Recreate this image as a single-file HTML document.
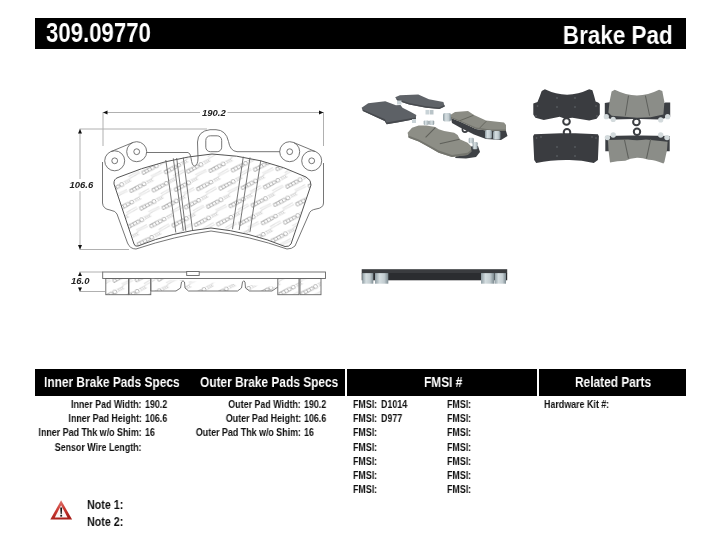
<!DOCTYPE html>
<html><head><meta charset="utf-8"><style>
html,body{margin:0;padding:0;background:#fff;}
body{width:720px;height:557px;overflow:hidden;position:relative;font-family:"Liberation Sans",sans-serif;font-weight:bold;color:#111;}
.bar{position:absolute;background:#000;}
.t{position:absolute;white-space:nowrap;transform-origin:0 0;will-change:transform;}
.r{position:absolute;white-space:nowrap;transform-origin:100% 0;text-align:right;will-change:transform;}
.w{color:#fff;}
.h1{font-size:27px;line-height:27px;}
.hd{font-size:14px;line-height:14px;}
.s{font-size:10.4px;line-height:10.4px;transform:scaleX(0.855);}
svg{position:absolute;left:0;top:0;will-change:transform;}
</style></head><body>
<!-- header -->
<div class="bar" style="left:35px;top:18px;width:651px;height:31px"></div>
<div class="t w h1" style="left:45.8px;top:19.3px;font-size:28px;line-height:28px;transform:scaleX(0.792)">309.09770</div>
<div class="r w h1" style="right:47.1px;top:21.5px;font-size:26.5px;line-height:26.5px;transform:scaleX(0.847)">Brake Pad</div>

<!-- drawing -->
<svg width="720" height="557" viewBox="0 0 720 557">
<defs>
<g id="logo" fill="none" stroke="#a6a6a6" stroke-width="0.75">
<rect x="0" y="-1.6" width="13" height="3.2" rx="0.6"/>
<path d="M3.25,-1.6 v3.2 M6.5,-1.6 v3.2 M9.75,-1.6 v3.2"/>
<circle cx="15.8" cy="0" r="1.9"/>
<path d="M18.6,-1.2 h7.5 M18.6,1.2 h7.5 M20.4,-1.2 v2.4 M22.4,-1.2 v2.4 M24.4,-1.2 v2.4" stroke="#d0d0d0"/>
<path d="M6,6.5 h12 M6,8.5 h12" stroke="#dedede" stroke-width="0.9"/>
</g>
<pattern id="st" patternUnits="userSpaceOnUse" x="0" y="0" width="22.3" height="17.6" patternTransform="translate(197,189.6) matrix(1,-0.0269,0.5682,1,0,0)">
<use href="#logo" transform="translate(-44.60,-17.60) matrix(0.98495,0.0265,-0.55946,0.98495,0,0) rotate(-28)"/>
<use href="#logo" transform="translate(-44.60,0.00) matrix(0.98495,0.0265,-0.55946,0.98495,0,0) rotate(-28)"/>
<use href="#logo" transform="translate(-44.60,17.60) matrix(0.98495,0.0265,-0.55946,0.98495,0,0) rotate(-28)"/>
<use href="#logo" transform="translate(-44.60,35.20) matrix(0.98495,0.0265,-0.55946,0.98495,0,0) rotate(-28)"/>
<use href="#logo" transform="translate(-22.30,-17.60) matrix(0.98495,0.0265,-0.55946,0.98495,0,0) rotate(-28)"/>
<use href="#logo" transform="translate(-22.30,0.00) matrix(0.98495,0.0265,-0.55946,0.98495,0,0) rotate(-28)"/>
<use href="#logo" transform="translate(-22.30,17.60) matrix(0.98495,0.0265,-0.55946,0.98495,0,0) rotate(-28)"/>
<use href="#logo" transform="translate(-22.30,35.20) matrix(0.98495,0.0265,-0.55946,0.98495,0,0) rotate(-28)"/>
<use href="#logo" transform="translate(0.00,-17.60) matrix(0.98495,0.0265,-0.55946,0.98495,0,0) rotate(-28)"/>
<use href="#logo" transform="translate(0.00,0.00) matrix(0.98495,0.0265,-0.55946,0.98495,0,0) rotate(-28)"/>
<use href="#logo" transform="translate(0.00,17.60) matrix(0.98495,0.0265,-0.55946,0.98495,0,0) rotate(-28)"/>
<use href="#logo" transform="translate(0.00,35.20) matrix(0.98495,0.0265,-0.55946,0.98495,0,0) rotate(-28)"/>
<use href="#logo" transform="translate(22.30,-17.60) matrix(0.98495,0.0265,-0.55946,0.98495,0,0) rotate(-28)"/>
<use href="#logo" transform="translate(22.30,0.00) matrix(0.98495,0.0265,-0.55946,0.98495,0,0) rotate(-28)"/>
<use href="#logo" transform="translate(22.30,17.60) matrix(0.98495,0.0265,-0.55946,0.98495,0,0) rotate(-28)"/>
<use href="#logo" transform="translate(22.30,35.20) matrix(0.98495,0.0265,-0.55946,0.98495,0,0) rotate(-28)"/>
</pattern>
</defs>
<!-- dimension lines -->
<g stroke="#b0b0b0" stroke-width="1" fill="none">
<line x1="103" y1="112.5" x2="200" y2="112.5"/>
<line x1="227.5" y1="112.5" x2="323" y2="112.5"/>
<line x1="103" y1="112" x2="103" y2="146"/>
<line x1="323.5" y1="112" x2="323.5" y2="146"/>
<line x1="79.5" y1="129" x2="207" y2="129"/>
<line x1="80" y1="129" x2="80" y2="179"/>
<line x1="80" y1="191" x2="80" y2="249"/>
<line x1="79.5" y1="249.5" x2="129" y2="249.5"/>
<line x1="79.5" y1="272" x2="103" y2="272"/>
<line x1="79.5" y1="291.5" x2="105" y2="291.5"/>
<line x1="80" y1="272" x2="80" y2="275"/>
<line x1="80" y1="287" x2="80" y2="291"/>
</g>
<g fill="#111">
<path d="M103,112.5 L107.5,110.5 L107.5,114.5Z"/>
<path d="M323.5,112.5 L319,110.5 L319,114.5Z"/>
<path d="M80,129 L78,133.5 L82,133.5Z"/>
<path d="M80,249.5 L78,245 L82,245Z"/>
<path d="M80,272 L78,276 L82,276Z"/>
<path d="M80,291.5 L78,287.5 L82,287.5Z"/>
</g>
<g font-family="Liberation Sans" font-weight="bold" font-style="italic" font-size="9.5" fill="#222">
<text x="202" y="116">190.2</text>
<text x="69.5" y="188">106.6</text>
<text x="71" y="284">16.0</text>
</g>
<!-- front view pad -->
<g fill="none" stroke="#666" stroke-width="0.9">
<!-- backing plate outline -->
<path d="M102.5,162 L102.5,203 Q103,209 110,210 Q116,211 117,214 L127.5,243 Q130,249 136,249 Q175,236 211,231 Q250,236 287,249 Q292,249 295,246 L309,214 Q310,210 316,209 Q323.5,208 323.5,203 L323.5,163
 M146.5,152.5 L188,152.5 Q190.5,153 191,158 Q192,166 194.5,166 Q198,165 198,158 L197.5,142 Q198,131 210,129.7 L216,129.7 Q226,130 228.5,141.5 Q230,151 237,151.7 L280,151.7"/>
<path d="M110.9,151.6 L132.9,142.5"/>
<path d="M293.5,142.5 L315.5,151.6"/>
<circle cx="114.7" cy="160.8" r="10"/>
<circle cx="136.7" cy="151.7" r="10"/>
<circle cx="289.7" cy="151.7" r="10"/>
<circle cx="311.7" cy="160.8" r="10"/>
<circle cx="114.7" cy="160.8" r="2.9"/>
<circle cx="136.7" cy="151.7" r="2.9"/>
<circle cx="289.7" cy="151.7" r="2.9"/>
<circle cx="311.7" cy="160.8" r="2.9"/>
<rect x="205.8" y="135.8" width="15.9" height="15.9" rx="4.5"/>
</g>
<!-- friction material -->
<path d="M114,184 Q113.5,179 118,177.5 Q165,158 212,154 Q262,156 306,177 Q311.5,180 311,185 L291,244 Q289,247 285,246.5 Q250,232 211,228 Q172,232 138,246 Q135,247 134,244 Z" fill="url(#st)" stroke="#555" stroke-width="1"/>
<g stroke="#666" stroke-width="0.9">
<line x1="165.8" y1="160" x2="175.8" y2="232.5"/>
<line x1="173.3" y1="158.3" x2="183.3" y2="230.8"/>
<line x1="176.7" y1="158" x2="185.8" y2="230.8"/>
<line x1="183.3" y1="157.5" x2="192.5" y2="230"/>
<line x1="243.3" y1="156.7" x2="232.5" y2="229.2"/>
<line x1="250" y1="157.5" x2="239.2" y2="230"/>
<line x1="260.8" y1="160" x2="250" y2="231.7"/>
</g>
<!-- side view -->
<g fill="url(#st)" stroke="#666" stroke-width="0.9">
<rect x="102.7" y="272" width="222.8" height="6.5" fill="#fff"/>
<rect x="186.7" y="271.5" width="12.5" height="4" fill="#fff"/>
<rect x="105.8" y="278.5" width="22.7" height="16.2"/>
<rect x="129" y="278.5" width="21.8" height="16.2"/>
<path d="M150.8,278.5 L150.8,291 L176,291 L180.5,288 L181.5,282 Q183,279.5 184.5,282 L185,288 L188.5,291 L237.5,291 L241.5,288 L242.5,282 Q243.7,279.5 245,282 L245.5,288 L249.5,291 L272,291 L277.8,287"/>
<rect x="277.8" y="278.5" width="21.2" height="16.2"/>
<rect x="300" y="278.5" width="21" height="16.2"/>
</g>
<!-- photos -->
<defs>
<linearGradient id="clip" x1="0" x2="1" y1="0" y2="0">
<stop offset="0" stop-color="#8e9ca2"/><stop offset="0.35" stop-color="#d4dde0"/><stop offset="0.7" stop-color="#c2ccd0"/><stop offset="1" stop-color="#7d8b91"/>
</linearGradient>
</defs>
<g>
<!-- pad 1 back-left -->
<path d="M361.6,107.8 L368.2,103.2 L385.3,101.2 L395.9,105.2 L400.5,104.9 L402.5,107.8 L410.4,111.7 L416.3,115 L415.7,119 L398.5,122.3 L386.7,124.3 L384.7,121 L362.9,111.1Z" fill="#5d6166"/>
<path d="M362.9,111.1 L384.7,121 L386.7,124.3 L398.5,122.3 L415.7,119 L415.9,117.5 L398,120.6 L386.5,122.5 L385,119.3 L362.5,109.5Z" fill="#46494d"/>
<rect x="412" y="119" width="4" height="4" fill="#c9d3d7"/>
<!-- pad 2 back-top -->
<path d="M395.2,97.2 L399.9,95.3 L418.3,94.6 L428.9,99.2 L443.4,101.9 L444.7,106.5 L439.4,109.1 L426.2,107.8 L409.1,104.5 L397.2,100.5Z" fill="#5f6368"/>
<path d="M397.2,100.5 L409.1,104.5 L426.2,107.8 L439.4,109.1 L444.7,106.5 L444.5,105 L439,107.5 L426,106.2 L409,103 L396.5,99Z" fill="#484b4f"/>
<rect x="397" y="100.5" width="4.5" height="4" fill="#c9d3d7"/>
<rect x="425.5" y="110" width="4" height="4.5" fill="#c9d3d7"/>
<rect x="430" y="110" width="3.5" height="4.5" fill="#b9c4c8"/>
<!-- pad 4 right -->
<path d="M451,118 L461,122 L476,129 L490,131 L506,131 L507.5,136 L501,140 L486,139 L474,134.5 L460,127.5 L452,123Z" fill="#3c3f43"/>
<circle cx="465" cy="129.5" r="2.6" fill="none" stroke="#3c3f43" stroke-width="1.6"/>
<path d="M451,114.5 L455,112 L468,111 L474,115 L486,120.5 L504,122.5 L506,125 L506,131 L490,131 L476,129 L461,122 L451,118Z" fill="#8b8c84"/>
<path d="M451,117 L461,121 L476,127.5 L490,129.6 L506,129.6 L506,131 L490,131 L476,129 L461,122 L451,118Z" fill="#74756e"/>
<path d="M473.5,115.3 L459.5,120.8 M486.5,121 L479.5,128.2" stroke="#66675f" stroke-width="1"/>
<rect x="443" y="113" width="8" height="8.5" rx="1.8" fill="url(#clip)"/>
<rect x="485" y="130" width="7" height="8.5" rx="1.5" fill="url(#clip)"/>
<rect x="493" y="131" width="7.5" height="8.5" rx="1.5" fill="url(#clip)"/>
<!-- pad 3 front-center -->
<path d="M462,147 L478,146 L480,152 L476,157 L466,158.5 L455,158Z" fill="#3e4145"/>
<path d="M407.6,132.7 L412,127.7 L418.7,125.4 L426.4,125.4 L435.3,127.1 L438.7,129.3 L444.2,131 L454.2,132.7 L457.6,134.9 L459.8,139.3 L467.6,142.7 L470.9,146 L471.4,151.6 L467.6,154.9 L452,157.1 L438.7,152.7 L428.7,147.1 L418.7,141.6 L408.7,137.7Z" fill="#8d8e86"/>
<path d="M408.2,135.5 L418.7,139.6 L428.7,145 L438.7,150.6 L452,155 L467.6,152.8 L471.2,149.8 L471.4,151.6 L467.6,154.9 L452,157.1 L438.7,152.7 L428.7,147.1 L418.7,141.6 L408.7,137.7Z" fill="#74756e"/>
<path d="M435.3,127.6 L425.6,137.3 M459.6,139.2 L439.8,143.8" stroke="#5f605a" stroke-width="1.1"/>
<rect x="423.7" y="120.4" width="5" height="4.6" rx="1.2" fill="url(#clip)"/>
<rect x="429.2" y="120.4" width="5" height="4.6" rx="1.2" fill="url(#clip)"/>
<rect x="468.7" y="137.7" width="5" height="5.5" rx="1.2" fill="url(#clip)"/>
<rect x="472.6" y="142" width="5" height="7.3" rx="1.2" fill="url(#clip)"/>
</g>
<g>
<!-- right group: top-left dark -->
<path d="M541.7,90.9 L544.9,89.3 Q567,100 589.2,89.3 L592.4,90.3 L594,95.6 L595.6,101.4 L598.2,102.5 L599.8,104.1 L599.8,114.6 L596.6,118.8 L589.2,120.4 L572.4,117.8 L570,118 L563,118 L559.7,116.7 L543.8,119.9 L535.4,117.8 L533.3,114.6 L533.3,103.5 L537.5,102 L539.6,96.7Z" fill="#3a3c40"/>
<circle cx="566.5" cy="121.5" r="3.3" fill="none" stroke="#3a3c40" stroke-width="2"/>
<g fill="#55585c"><circle cx="557" cy="98" r="1"/><circle cx="575" cy="98" r="1"/><circle cx="557" cy="107" r="1"/><circle cx="575" cy="107" r="1"/><circle cx="537.5" cy="106" r="0.9"/><circle cx="596" cy="106" r="0.9"/><circle cx="536" cy="116" r="0.9"/><circle cx="597" cy="116" r="0.9"/></g>
<!-- top-right gray -->
<path d="M604.8,103 L611,102 L611,103 L664,103 L665.5,102.5 L670.2,102.5 L670.2,116.7 L660,119.5 L640,119 L633,119 L612,119.5 L604.8,116.7Z" fill="#3c3f43"/>
<circle cx="636.4" cy="122" r="3.3" fill="none" stroke="#3c3f43" stroke-width="2"/>
<path d="M611.6,91.4 L614.8,89.8 Q637,101 659.1,89.8 L662.3,90.9 L664.4,102 L663.4,114.6 L650.7,117.3 L637,117.8 L611.6,115.7 L608.4,112.5 L609.5,102Z" fill="#8b8d88"/>
<path d="M628.5,95.6 L625.3,115.7 M645.4,95.6 L649.6,115.7" stroke="#5e605c" stroke-width="1"/>
<g fill="#d3dadc"><circle cx="606.3" cy="116.7" r="2.6"/><circle cx="613.2" cy="119.4" r="2.6"/><circle cx="660.7" cy="119.9" r="2.6"/><circle cx="667.6" cy="116.7" r="2.6"/></g>
<!-- bottom-left dark -->
<circle cx="567" cy="132.2" r="3.3" fill="none" stroke="#3a3c40" stroke-width="2"/>
<path d="M534.2,134.3 L560.9,133.2 L575.3,133.2 L597.9,134.3 L598.9,136.3 L597.9,160 L593.8,163 Q580,159.5 566,160 Q550,160 536.2,163 L534.2,160 L533.1,136.3Z" fill="#3a3c40"/>
<g fill="#55585c"><circle cx="536.5" cy="138" r="0.9"/><circle cx="541" cy="137" r="0.9"/><circle cx="592" cy="137" r="0.9"/><circle cx="596" cy="138" r="0.9"/><circle cx="557" cy="147" r="1"/><circle cx="575" cy="147" r="1"/><circle cx="557" cy="156" r="1"/><circle cx="575" cy="156" r="1"/></g>
<!-- bottom-right gray -->
<circle cx="637" cy="131.8" r="3.2" fill="none" stroke="#3c3f43" stroke-width="2"/>
<path d="M605.3,136 L632,135.5 L642,135.5 L669.7,136 L669.7,151.3 L605.3,151.3Z" fill="#3c3f43"/>
<path d="M608,140 L628,139.5 Q637,141 646,139.5 L667.6,141.8 L667,150 L664.4,162 L663.4,163.5 Q655,160 648.6,159.8 Q642,157.5 637,157.7 Q630,158 625.3,160.8 Q617,161 610,162.4 L608.5,150Z" fill="#8b8d88"/>
<path d="M624.3,139 L628.5,158.5 M650.7,139 L646.5,158.5" stroke="#5e605c" stroke-width="1.1"/>
<g fill="#d3dadc"><circle cx="613.2" cy="135" r="2.7"/><circle cx="607.4" cy="137.6" r="2.7"/><circle cx="660.7" cy="135" r="2.7"/><circle cx="667" cy="137.6" r="2.7"/></g>
</g>
</g>
<g>
<!-- side photo -->
<rect x="361.7" y="269.2" width="145.5" height="4" fill="#3a3c3f"/>
<rect x="361.7" y="273" width="145.5" height="7.3" fill="#2b2d30"/>
<rect x="362.2" y="273.1" width="11.1" height="10.6" fill="url(#clip)"/>
<rect x="375" y="273.1" width="13.3" height="10.6" fill="url(#clip)"/>
<rect x="481" y="273.1" width="13" height="10.6" fill="url(#clip)"/>
<rect x="494.5" y="273.1" width="11.5" height="10.6" fill="url(#clip)"/>
</g>
<!-- warning -->
<defs><linearGradient id="wr" x1="0" y1="0" x2="0.3" y2="1"><stop offset="0" stop-color="#e48a86"/><stop offset="0.55" stop-color="#cc3b33"/><stop offset="1" stop-color="#a81f1a"/></linearGradient></defs>
<path d="M61.1,500.3 L50.3,519.6 L72.1,519.6Z" fill="url(#wr)"/>
<path d="M61.1,505.2 L54.8,517.4 L67.5,517.4Z" fill="#fbf4f4"/>
<path d="M60.2,507.5 L62.2,507.5 L61.7,514.2 L60.7,514.2Z" fill="#151515"/>
<rect x="60.3" y="515" width="1.8" height="1.6" fill="#151515"/>
</svg>

<!-- table header -->
<div class="bar" style="left:35px;top:369px;width:310px;height:27px"></div>
<div class="bar" style="left:347px;top:369px;width:190px;height:27px"></div>
<div class="bar" style="left:539px;top:369px;width:147px;height:27px"></div>
<div class="t w hd" style="left:44px;top:375px;transform:scaleX(0.85)">Inner Brake Pads Specs</div>
<div class="t w hd" style="left:200px;top:375px;transform:scaleX(0.85)">Outer Brake Pads Specs</div>
<div class="t w hd" style="left:424px;top:375px;transform:scaleX(0.85)">FMSI #</div>
<div class="t w hd" style="left:575px;top:375px;transform:scaleX(0.85)">Related Parts</div>

<!-- inner specs -->
<div class="r s" style="right:578.4px;top:399.6px">Inner Pad Width:</div>
<div class="r s" style="right:578.4px;top:413.9px">Inner Pad Height:</div>
<div class="r s" style="right:578.4px;top:428.2px">Inner Pad Thk w/o Shim:</div>
<div class="r s" style="right:578.4px;top:442.5px">Sensor Wire Length:</div>
<div class="t s" style="left:145px;top:399.6px">190.2</div>
<div class="t s" style="left:145px;top:413.9px">106.6</div>
<div class="t s" style="left:145px;top:428.2px">16</div>

<!-- outer specs -->
<div class="r s" style="right:419px;top:399.6px">Outer Pad Width:</div>
<div class="r s" style="right:419px;top:413.9px">Outer Pad Height:</div>
<div class="r s" style="right:419px;top:428.2px">Outer Pad Thk w/o Shim:</div>
<div class="t s" style="left:304.4px;top:399.6px">190.2</div>
<div class="t s" style="left:304.4px;top:413.9px">106.6</div>
<div class="t s" style="left:304.4px;top:428.2px">16</div>

<!-- FMSI -->
<div class="t s" style="left:353px;top:399.6px">FMSI:</div>
<div class="t s" style="left:380.6px;top:399.6px">D1014</div>
<div class="t s" style="left:353px;top:413.9px">FMSI:</div>
<div class="t s" style="left:380.6px;top:413.9px">D977</div>
<div class="t s" style="left:353px;top:428.2px">FMSI:</div>
<div class="t s" style="left:353px;top:442.5px">FMSI:</div>
<div class="t s" style="left:353px;top:456.8px">FMSI:</div>
<div class="t s" style="left:353px;top:471.1px">FMSI:</div>
<div class="t s" style="left:353px;top:485.4px">FMSI:</div>
<div class="t s" style="left:447px;top:399.6px">FMSI:</div>
<div class="t s" style="left:447px;top:413.9px">FMSI:</div>
<div class="t s" style="left:447px;top:428.2px">FMSI:</div>
<div class="t s" style="left:447px;top:442.5px">FMSI:</div>
<div class="t s" style="left:447px;top:456.8px">FMSI:</div>
<div class="t s" style="left:447px;top:471.1px">FMSI:</div>
<div class="t s" style="left:447px;top:485.4px">FMSI:</div>

<!-- related -->
<div class="t s" style="left:544px;top:399.6px">Hardware Kit #:</div>

<!-- notes -->
<div class="t" style="left:87px;top:499px;font-size:12.6px;line-height:12.6px;transform:scaleX(0.85)">Note 1:</div>
<div class="t" style="left:87px;top:516.1px;font-size:12.6px;line-height:12.6px;transform:scaleX(0.85)">Note 2:</div>
</body></html>
